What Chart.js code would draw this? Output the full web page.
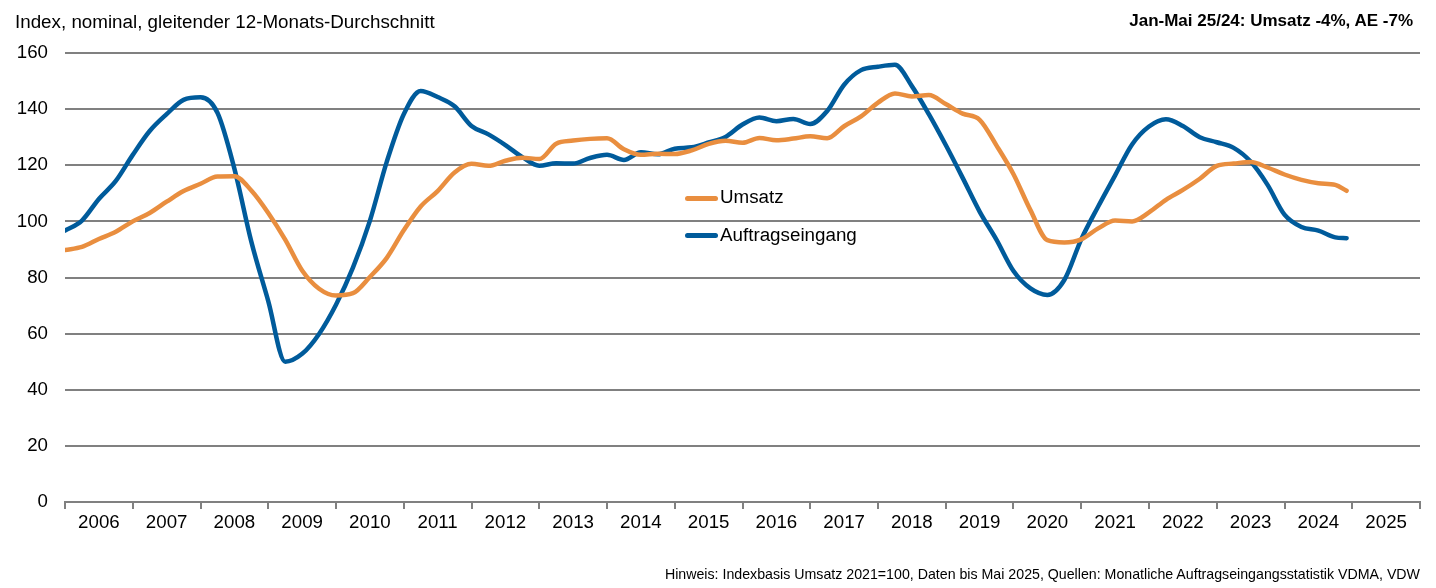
<!DOCTYPE html>
<html>
<head>
<meta charset="utf-8">
<script src="https://cdn.jsdelivr.net/npm/chart.js@4.4.1/dist/chart.umd.min.js"></script>
<style>
  body { margin: 0; background: #fff; font-family: "Liberation Sans", Arial, sans-serif; }
  #wrap { position: relative; width: 1436px; height: 588px; overflow: hidden; }
  #chart { position: absolute; left: 0; top: 0; }
  .txt { position: absolute; white-space: nowrap; color: #000; }
  .big { font-size: 18.8px; line-height: 22px; }
  .key { position: absolute; width: 33px; height: 5px; border-radius: 3px; }
</style>
</head>
<body>
<div id="wrap">
  <canvas id="chart" width="1436" height="588"></canvas>
  <div class="txt big" style="left:15px; top:11px;">Index, nominal, gleitender 12-Monats-Durchschnitt</div>
  <div class="txt" style="right:23px; top:11px; font-size:17px; line-height:20px; font-weight:bold;">Jan-Mai 25/24: Umsatz -4%, AE -7%</div>
  <div class="txt" style="right:16px; top:566px; font-size:14.2px; line-height:16px;">Hinweis: Indexbasis Umsatz 2021=100, Daten bis Mai 2025, Quellen: Monatliche Auftragseingangsstatistik VDMA, VDW</div>

  <div class="key" style="left:685px; top:196px; background:#E98E3F;"></div>
  <div class="txt big" style="left:720px; top:186px;">Umsatz</div>
  <div class="key" style="left:685px; top:233px; background:#005B9B;"></div>
  <div class="txt big" style="left:720px; top:224px;">Auftragseingang</div>
</div>
<script>
// year labels under the axis
const years = ['2006', '2007', '2008', '2009', '2010', '2011', '2012', '2013', '2014', '2015',
  '2016', '2017', '2018', '2019', '2020', '2021', '2022', '2023', '2024', '2025'];

// quarterly readings (every 3 months from Jan 2006), last one is the final month
const umsatz = [89.8, 90.9, 93.7, 96.3, 100.0, 103.0, 107.0, 110.8, 113.4, 116.0,
  116.1, 111.0, 103.0, 93.5, 82.5, 76.0, 73.6, 74.4, 80.2, 87.0,
  96.8, 105.3, 110.8, 117.4, 120.5, 119.8, 121.6, 122.7, 122.2, 127.7,
  128.8, 129.4, 129.6, 125.7, 123.7, 124.1, 124.0, 125.3, 127.6, 128.7,
  128.0, 129.7, 128.9, 129.5, 130.3, 129.6, 133.9, 137.4, 142.3, 145.6,
  144.5, 145.0, 141.8, 138.4, 136.2, 127.0, 116.8, 104.0, 93.3, 92.5,
  93.6, 97.5, 100.3, 100.0, 103.2, 107.7, 111.2, 115.2, 119.8, 120.6,
  121.2, 119.2, 116.7, 114.8, 113.6, 113.0, 110.9];

const auftrag = [96.7, 100.3, 108.0, 114.4, 123.7, 132.2, 138.2, 143.3, 144.2, 138.7,
  118.8, 92.8, 71.6, 50.0, 52.8, 59.9, 70.3, 83.5, 100.2, 121.3,
  138.2, 146.5, 144.3, 141.0, 134.0, 131.0, 127.2, 122.9, 119.8, 120.7,
  120.6, 122.6, 123.7, 121.9, 124.6, 123.9, 125.9, 126.4, 128.1, 130.1,
  134.5, 137.0, 135.7, 136.5, 134.7, 139.3, 148.7, 153.9, 155.1, 155.8,
  148.2, 138.2, 127.2, 115.5, 103.5, 93.4, 82.3, 76.1, 73.8, 79.1,
  93.6, 105.3, 116.4, 127.4, 133.8, 136.4, 134.0, 130.0, 128.2, 126.2,
  121.3, 113.0, 102.4, 98.0, 96.7, 94.3, 94.0];

const lastMonth = 227;
const months = umsatz.map((v, i) => (i === umsatz.length - 1 ? lastMonth : i * 3));

const toPoints = (values) => values.map((v, i) => ({ x: months[i], y: v }));

const grey = '#808080';
const tickFont = { size: 18.7, family: '"Liberation Sans", Arial, sans-serif' };

new Chart(document.getElementById('chart'), {
  type: 'line',
  data: {
    datasets: [
      {
        label: 'Umsatz',
        data: toPoints(umsatz),
        borderColor: '#E98E3F',
        borderWidth: 4.5,
        pointRadius: 0,
        cubicInterpolationMode: 'monotone',
        borderCapStyle: 'round',
        borderJoinStyle: 'round',
      },
      {
        label: 'Auftragseingang',
        data: toPoints(auftrag),
        borderColor: '#005B9B',
        borderWidth: 4.5,
        pointRadius: 0,
        cubicInterpolationMode: 'monotone',
        borderCapStyle: 'round',
        borderJoinStyle: 'round',
      },
    ],
  },
  options: {
    responsive: false,
    animation: false,
    devicePixelRatio: 1,
    layout: { padding: { left: 15, right: 16, top: 53, bottom: 48 } },
    plugins: { legend: { display: false }, tooltip: { enabled: false } },
    scales: {
      x: {
        type: 'linear',
        position: 'bottom',
        min: 0,
        max: 240,
        ticks: { stepSize: 12, display: false, autoSkip: false, maxTicksLimit: 30 },
        grid: { drawOnChartArea: false, color: grey, lineWidth: 2, tickLength: 7 },
        border: { color: grey, width: 2 },
        afterFit: (s) => { s.height = 8; },
      },
      x2: {
        type: 'category',
        position: 'bottom',
        labels: years,
        offset: true,
        grid: { display: false, drawTicks: false },
        border: { display: false },
        ticks: { color: '#000', font: tickFont, padding: 2, maxRotation: 0, autoSkip: false },
        afterFit: (s) => { s.height = 30; },
      },
      y: {
        min: 0,
        max: 160,
        ticks: { stepSize: 20, padding: 17, color: '#000', font: tickFont },
        grid: { color: grey, lineWidth: 2, drawTicks: false },
        border: { display: false },
        afterFit: (s) => { s.width = 50; },
      },
    },
  },
});
</script>
</body>
</html>
